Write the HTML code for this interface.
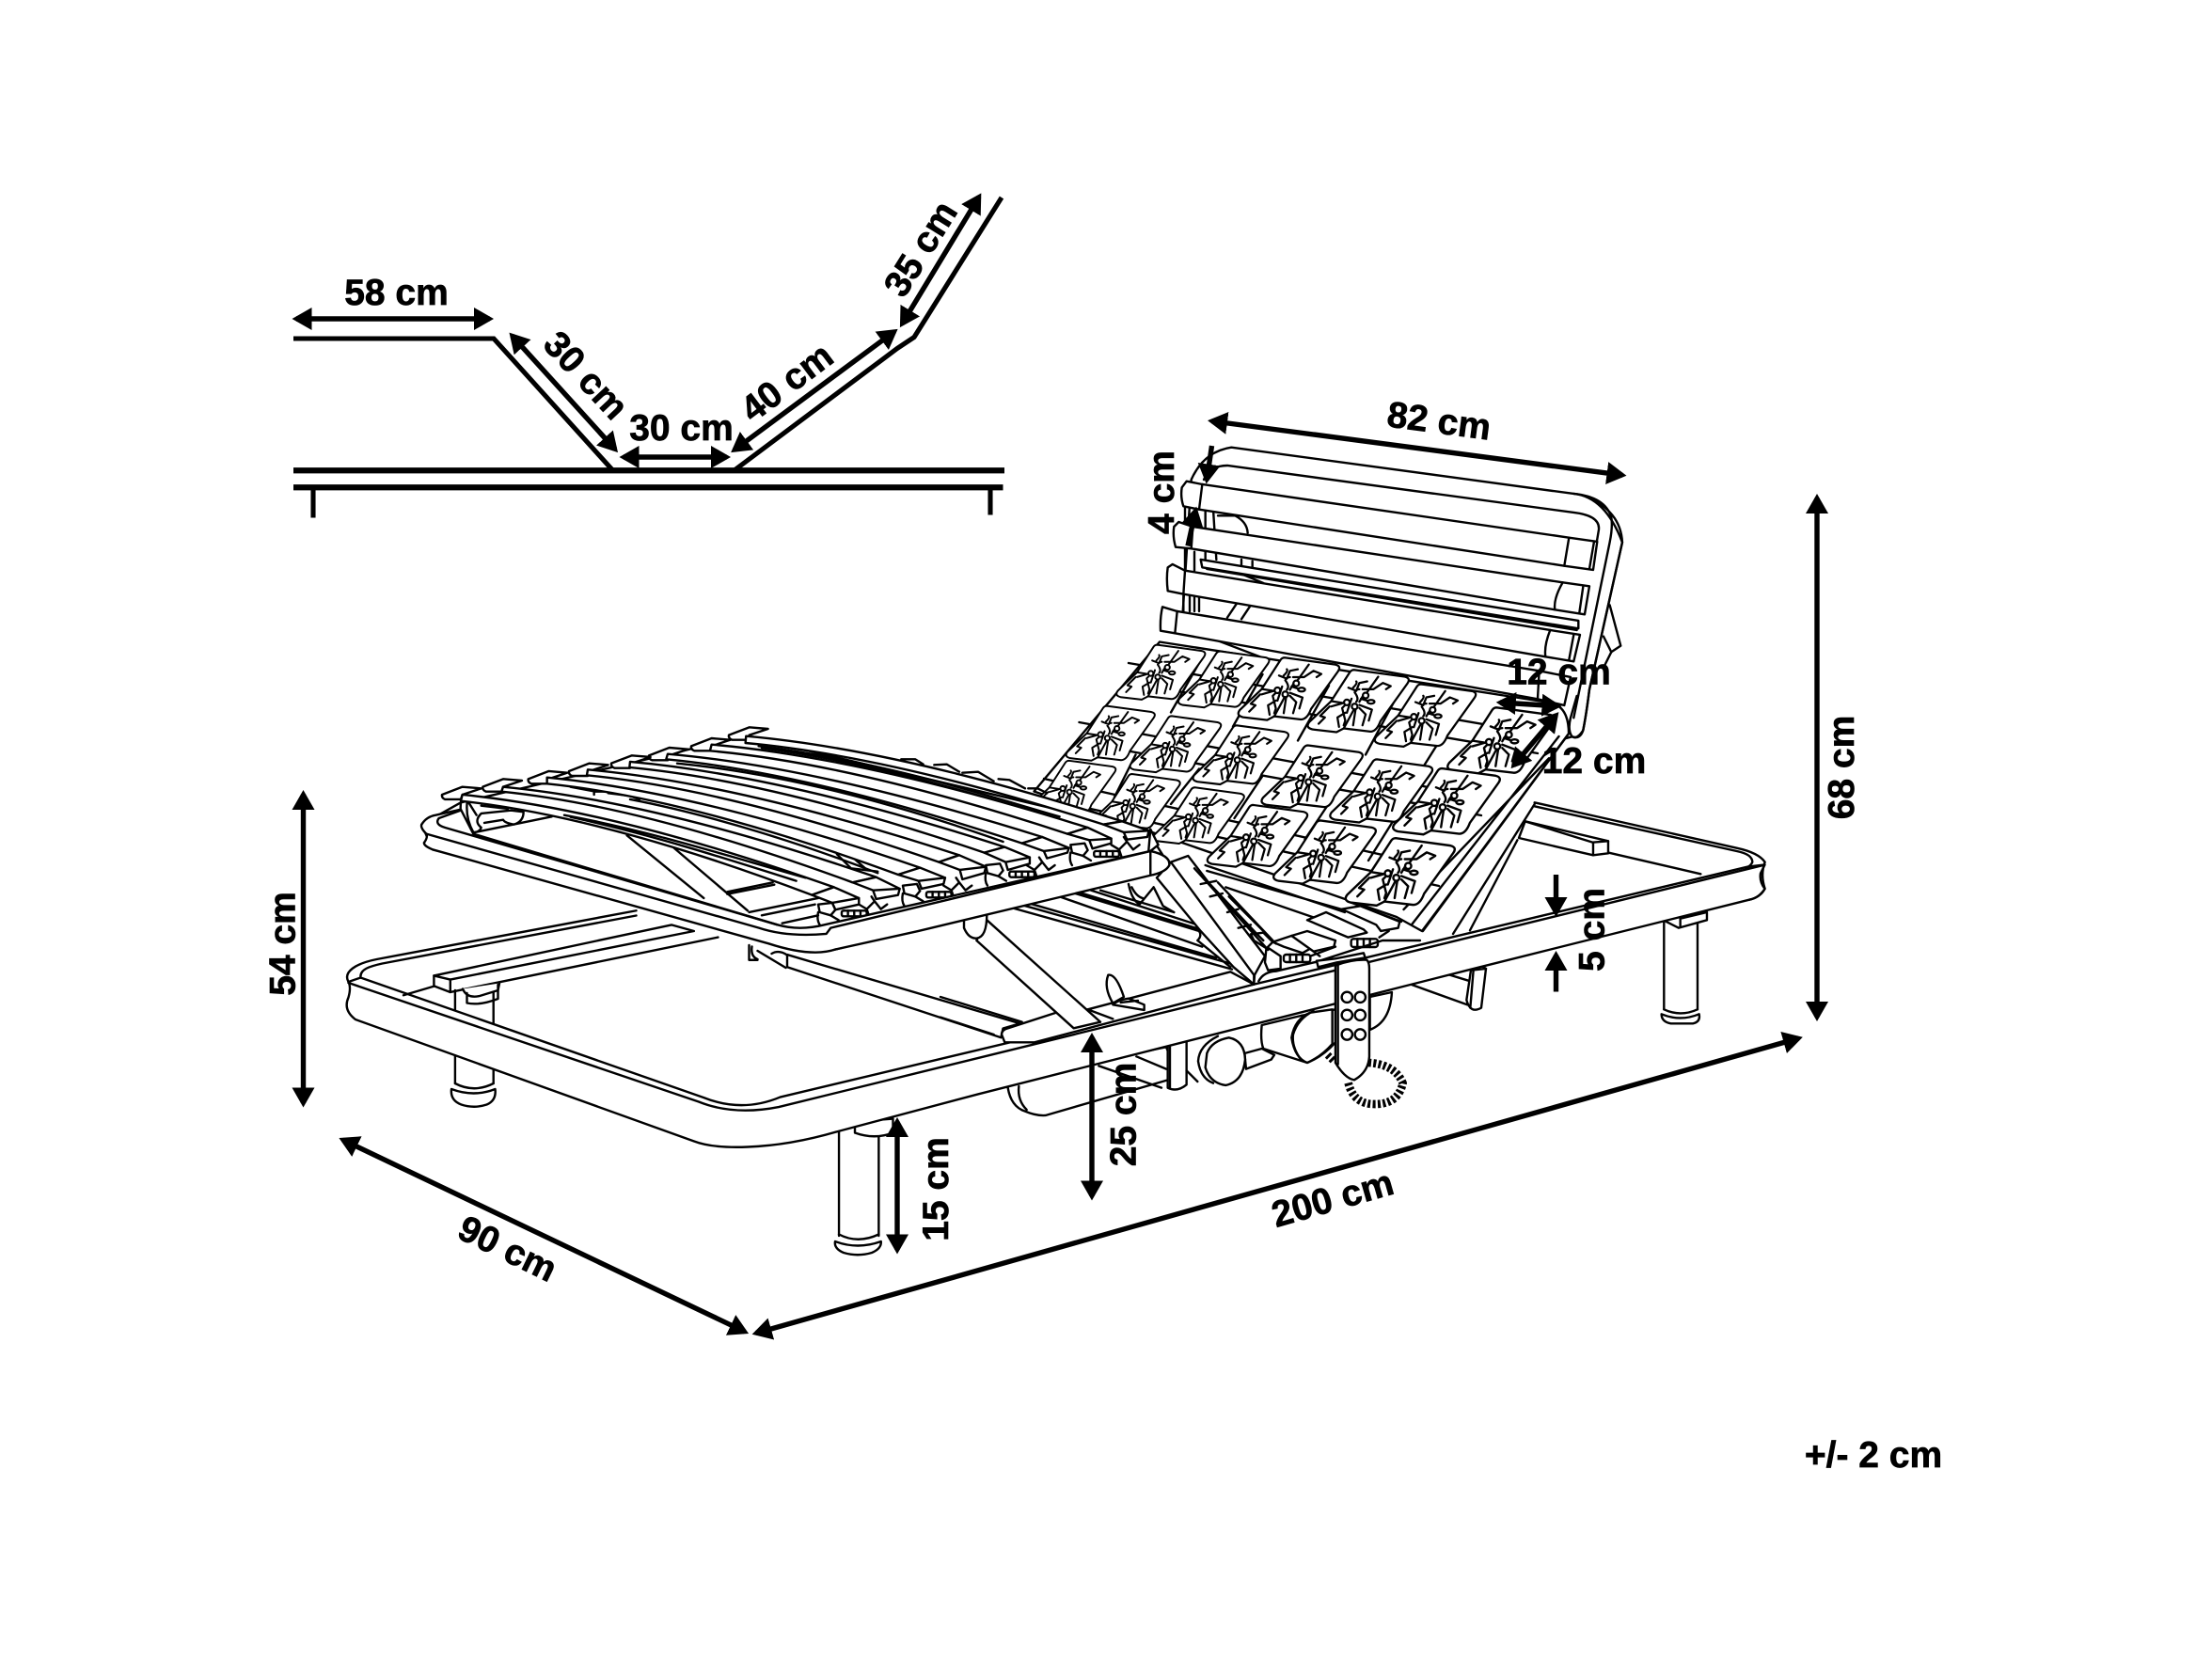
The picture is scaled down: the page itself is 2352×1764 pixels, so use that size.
<!DOCTYPE html>
<html><head><meta charset="utf-8"><title>Bed dimensions</title>
<style>
html,body{margin:0;padding:0;background:#fff}
svg{display:block}
text{font-family:"Liberation Sans",sans-serif;font-weight:700;font-size:26px;fill:#000;text-anchor:middle;stroke:#000;stroke-width:.45}
.d{stroke:#000;stroke-width:3.6;fill:none;marker-start:url(#a);marker-end:url(#a)}
.e{stroke:#000;stroke-width:3.6;fill:none;marker-end:url(#a)}
.w{fill:#fff}
</style></head><body>
<svg xmlns="http://www.w3.org/2000/svg" width="2352" height="1764" viewBox="0 0 1568 1176">
<defs>
<marker id="a" markerUnits="userSpaceOnUse" markerWidth="18" markerHeight="18" refX="11" refY="8.5" orient="auto-start-reverse"><path d="M0,0.5L14,8.5L0,16.5z" fill="#000"/></marker>
<g id="tile" stroke-width="6.8">
<path class="w" d="M378,598L540,620Q560,625 548,642L462,762Q450,795 430,795L345,785L322,797L245,788Q222,782 235,765L305,698L310,690L365,605Q370,598 378,598z"/>
<path d="M455,620L405,690M305,698L350,705M345,785L380,720"/>
<path d="M375,655Q390,640 385,635M360,655L385,665L395,640L420,635M405,660L440,660L470,640L495,650L480,660M385,700Q395,690 380,670Q385,660 395,660M400,690L430,700M300,715L270,745L285,750L265,770M340,705L305,715M350,735L325,750L330,780M360,700L340,720L350,760L345,775M385,710L375,775M395,720L415,740L405,775M395,710L435,725L425,760M410,675L395,700M370,690L355,735"/>
<circle cx="355" cy="702" r="9" class="w"/><circle cx="380" cy="715" r="9" class="w"/><circle cx="415" cy="680" r="9" class="w"/><ellipse cx="432" cy="700" rx="11" ry="6" class="w"/>
</g>
<path id="sc" class="w" d="M90,225L155,200L215,205L155,225L150,240L100,240Q88,235 90,225z"/>
<g id="st">
<path class="w" d="M1290,575L1295,600L1330,610L1345,592L1335,570z"/>
<path d="M1330,610L1355,625M1290,600Q1285,625 1295,640"/>
<rect class="w" x="1365" y="595" width="80" height="18" rx="6"/>
<path d="M1385,595v18M1405,595v18M1425,595v18M1420,575L1445,590L1470,565L1460,550M1470,565L1490,590L1510,575M1445,590L1455,620"/>
</g>
</defs>

<!-- side profile -->
<g fill="none" stroke="#000">
<polyline points="208,240 350,240 434,333" stroke-width="3.4"/>
<polyline points="521,333 636,247 648,239 710,140" stroke-width="3.4"/>
<line x1="208" y1="333.5" x2="712" y2="333.5" stroke-width="4.2"/>
<line x1="208" y1="345.5" x2="711" y2="345.5" stroke-width="4.2"/>
<line x1="222" y1="346" x2="222" y2="367" stroke-width="3.4"/>
<line x1="702" y1="346" x2="702" y2="365" stroke-width="3.4"/>
</g>

<g fill="none" stroke="#000" stroke-width="1.6" stroke-linejoin="round" stroke-linecap="round">

<!-- legs -->
<path d="M322.6,702V768M349.8,702V768"/>
<path class="w" d="M320,772Q336,778 351,772Q352,780 345,783Q336,786 327,783Q319,780 320,772z"/>
<path d="M322.6,768Q336,775 349.8,768"/>
<path d="M594.7,795V876M622.9,795V876"/>
<path class="w" d="M592,880Q608,886 624.5,880Q625,885 618,888Q608,891 598,888Q591,885 592,880z"/>
<path d="M594.7,875Q608,882 622.9,875"/>
<path class="w" d="M606,795V803Q620,808 633,803V793z"/>
<!-- far right leg, F4 -->
<g transform="translate(1000,553.33) scale(.2222)" stroke-width="7.2">
<path d="M808,450V730M915,450V730"/>
<path class="w" d="M800,745Q860,770 920,745Q925,770 900,775L830,775Q800,770 800,745z"/>
<path d="M808,730Q860,755 915,730"/>
<path class="w" d="M815,450L855,470L945,445V420L860,440V468"/>
<!-- right mech -->
<path class="w" d="M85,630L190,660L240,600L180,560L85,630z"/>
<path class="w" d="M0,650L180,715L190,640L60,600z"/>
<path class="w" d="M192,605L178,700Q190,745 225,725L240,600z"/>
<path d="M200,605L190,725"/>
</g>

<!-- motor parts under frame, F5 -->
<g transform="translate(693.33,653.33) scale(.2222)" stroke-width="7.2">
<path class="w" d="M95,530Q105,590 150,605Q185,620 215,618L640,495L600,400L95,500z"/>
<path d="M130,525Q125,570 155,600"/>
<path d="M505,430L600,470M385,460L585,530"/>
<path class="w" d="M605,390V530Q635,545 665,520V380z"/>
<path d="M612,390V530"/>
<path class="w" d="M850,420L905,405L945,425L935,440L855,470z"/>
<path class="w" d="M730,420Q745,380 800,370Q850,380 852,440Q845,510 790,522Q740,515 725,465z"/>
<path d="M765,365Q705,395 702,445Q710,500 750,515M665,475L700,510"/>
<path class="w" d="M905,330Q900,380 910,405L1050,450Q1100,430 1140,385V280L1030,300z"/>
<path class="w" d="M1050,450Q1010,435 1000,370Q1010,310 1060,290L1130,280V390Q1095,430 1050,450z"/>
<path d="M1030,440Q1000,400 1005,360Q1020,310 1070,285"/>
<path class="w" d="M1250,240L1320,225Q1315,320 1250,345z"/>
</g>

<!-- base frame band -->
<path class="w" d="M255.6,693L498.7,778Q526,789 553,777.7L1239,614.4L1251,613L1248,619Q1247,625 1251,630Q1248,636 1240,637.8L1040,687.8L693.3,775.6L594,802Q560,812 530,813Q505,814 492,809L252,722.7Q243,716 247,707Q249,700 247,696z"/>
<path d="M247,696.7L495.3,781Q520,791 552,784.7L1250,613.3"/>
<path d="M247,696C243,689 252,683 267,680L451,645.5M255.6,693C255,687 262,685 271,683L451,649"/>
<g transform="translate(1000,553.33) scale(.2222)" stroke-width="7.2">
<path d="M395,70L1040,215Q1110,230 1130,260Q1115,300 1130,345Q1110,375 1080,380"/>
<path d="M395,82L1040,225Q1090,235 1090,260Q1085,272 1070,278"/>
<path class="w" d="M365,130L630,193V232L582,238L345,183z"/>
<path d="M580,197L630,193M580,197L365,130M582,198V238M632,230L925,298"/>
</g>

<!-- back-left cross bar -->
<path class="w" d="M307.6,691.6L476,655.6L491.9,660L319.2,694.4V703.3L307.6,698.9z"/>
<path d="M319.2,694.4L307.6,691.6M319.2,703.3L509,664.4M286,705.5L308,699"/>
<path class="w" d="M328,701Q331,708 340,706L353,702L354,697"/>
<path d="M331,704V711Q340,713 353,708V698"/>

<!-- centre mechanism -->
<path d="M531,670V680.5H537M533,671Q532,678 537,680M537,674L557,686M547,676Q552,673 558,677"/>
<path class="w" d="M558,676.7L723,725.5L711,729L709.6,735.5L558,685.5z"/>

<g transform="translate(666.67,600) scale(.2222)" stroke-width="7.2">
<!-- base block + beam -->
<path class="w" d="M195,600Q195,585 215,580L370,530L470,520L925,400L1000,440L300,625L205,625z"/>
<path d="M470,520L550,550"/>
<path d="M0,480L260,560M0,545L170,600"/>
<!-- arm -->
<path class="w" d="M148,235L510,560L425,580L115,300z"/>
<path class="w" d="M75,225V260Q90,295 115,293Q148,290 148,215z"/>
<!-- handle -->
<path class="w" d="M550,500Q520,450 535,410Q560,405 585,480z"/>
<path class="w" d="M550,505L650,522L650,505L600,485Q565,490 550,505z"/>
<path d="M575,498L630,492"/>
<!-- centre slats -->
<path d="M225,195L930,392M265,188L930,375M285,182L880,355M380,160L835,320M430,150L825,270M440,146L820,262M480,140L820,250M510,140L745,210"/>
<path d="M600,120Q610,170 635,185L680,130M610,130Q625,160 645,165M680,130L710,190L745,210"/>
<path d="M845,60L1290,210M850,78L1330,215M910,130L1230,240M920,160L1070,310M885,115L1060,300"/>
<path d="M1300,175L1470,240"/>
<!-- stones -->
<g class="w">
<path d="M1040,320L1085,350L1085,390L1045,395L1035,370z"/>
<path d="M990,280L1030,275L1060,305L1040,325L1000,300z"/>
<path d="M1060,305L1120,285L1190,320L1155,340L1095,320z"/>
<path d="M1120,285L1170,270L1260,300L1255,320L1190,335z"/>
<path d="M1170,235L1230,210L1350,265L1360,275L1300,290z"/>
<path d="M1280,200L1340,190L1465,240L1460,260L1405,270L1390,250z"/>
</g>
<rect class="w" x="1095" y="345" width="85" height="24" rx="8"/>
<path d="M1115,345v24M1135,345v24M1155,345v24"/>
<rect class="w" x="1310" y="295" width="85" height="26" rx="8"/>
<path d="M1330,295v26M1350,295v26M1370,295v26"/>
<path d="M1015,430Q1030,400 1070,398L1200,368L1410,300L1530,300"/>
<path d="M1180,350L1260,320M1400,290L1430,270M1190,335L1210,350"/>
<!-- bar -->
<path class="w" d="M735,50L690,100L830,270L935,385L1000,440L1002,410L1035,350L790,30z"/>
<path d="M735,50L1000,410V440M810,70L1045,330M850,110L1010,280M900,170L1030,300"/>
<path d="M825,270Q835,285 820,300L925,385M830,120L880,110M860,160L900,150M915,210L950,200M950,260L990,250"/>
</g>

<!-- back section -->
<g transform="translate(826.67,333.33) scale(.2222)" stroke-width="7.2">
<path class="w" d="M80,30Q120,-60 208,-73L1300,75Q1400,85 1455,230L1350,700Q1340,780 1330,830Q1310,860 1295,850L1100,900L50,500z"/>
<path d="M1340,85Q1450,130 1455,230L1350,700Q1340,780 1330,830Q1320,860 1295,850Q1280,830 1290,790L1310,720"/>
<path d="M1300,75Q1400,85 1420,150Q1425,180 1415,230L1300,790"/>
<path d="M120,30Q140,-15 195,-15L1300,135Q1385,145 1380,190L1370,250"/>
<path class="w" d="M1415,430L1450,560L1420,580L1395,530"/>
<path d="M1420,580L1400,620"/>
<path d="M150,125L160,285M125,130V285M165,145H220Q258,165 260,200M240,285V310M275,290V310M250,335L310,360M60,120V320M90,260V320"/>
<path d="M55,400V450M75,400V450M90,400V450M105,400V450M195,470L225,425M240,475L270,430"/>
<path class="w" d="M110,285L1315,480V505L115,310z"/>
<path d="M130,315L1310,510"/>
<!-- slat D -->
<path class="w" d="M-12,436L35,450L1190,640L1290,660L1270,750L1185,730L28,520L-18,512Q-20,470 -12,436z"/>
<path d="M35,450L28,520M1190,640L1185,730"/>
<!-- slat C -->
<path class="w" d="M5,310L20,300L60,320L1225,510L1320,525L1300,610L1210,595L55,395L5,385Q0,345 5,310z"/>
<path d="M60,320L55,395M1225,510Q1205,560 1210,595M1300,525L1285,605"/>
<!-- slat B -->
<path class="w" d="M25,180L40,165L85,180L1265,358L1350,370L1335,460L1240,445L80,250L30,245Q20,210 25,180z"/>
<path d="M85,180L80,250M1265,358Q1235,410 1240,445M1330,372L1318,455"/>
<!-- slat A -->
<path class="w" d="M50,55L65,35L115,45L1285,215L1375,228L1362,318L1270,305L105,125L55,115Q45,85 50,55z"/>
<path d="M115,45L105,125M1285,215L1270,305M1365,228L1350,315"/>
</g>

<!-- foam bed -->
<path class="w" d="M822,455L1098,498Q1112,500 1112,520L1008,660L990,650L733,561z"/>
<path d="M1098,537.5L995,644.7M1105,522L1001,655M1111.3,521L1008.6,660M1087.8,570L1030,662M1075.6,595.5L1042,659.5"/>
<path d="M800,470L1090,520M800,484L1090,534M765,512L1050,565M765,526L1050,578M740,552L1020,615M740,566L1020,628"/>
<path d="M850,470L830,505M895,478L874,515M942,486L920,525M990,494L968,535M1035,502L1008,545M805,535L790,565M850,545L830,570M895,550L875,580M945,565L925,595M990,578L970,610"/>
<use href="#tile" transform="translate(822.6,476.4) scale(.195) translate(-390,-697)"/>
<use href="#tile" transform="translate(867.2,481.5) scale(.2) translate(-390,-697)"/>
<use href="#tile" transform="translate(913.3,488.2) scale(.2222) translate(-390,-697)"/>
<use href="#tile" transform="translate(962.5,496.8) scale(.2222) translate(-390,-697)"/>
<use href="#tile" transform="translate(1010,507) scale(.2222) translate(-390,-697)"/>
<use href="#tile" transform="translate(1063.7,524.8) scale(.235) translate(-390,-697)"/>
<use href="#tile" transform="translate(786.9,519.7) scale(.195) translate(-390,-697)"/>
<use href="#tile" transform="translate(833,527.4) scale(.2) translate(-390,-697)"/>
<use href="#tile" transform="translate(879.2,535) scale(.21) translate(-390,-697)"/>
<use href="#tile" transform="translate(929.8,550.3) scale(.2222) translate(-390,-697)"/>
<use href="#tile" transform="translate(978.8,560.5) scale(.225) translate(-390,-697)"/>
<use href="#tile" transform="translate(1025,568) scale(.235) translate(-390,-697)"/>
<use href="#tile" transform="translate(760,558) scale(.19) translate(-390,-697)"/>
<use href="#tile" transform="translate(804.8,568) scale(.195) translate(-390,-697)"/>
<use href="#tile" transform="translate(849.4,578) scale(.2) translate(-390,-697)"/>
<use href="#tile" transform="translate(891,592.4) scale(.22) translate(-390,-697)"/>
<use href="#tile" transform="translate(938.7,603.9) scale(.225) translate(-390,-697)"/>
<use href="#tile" transform="translate(992.2,617.9) scale(.24) translate(-390,-697)"/>

<!-- seat: frame F1 -->
<g transform="translate(293.33,513.33) scale(.2222)" stroke-width="7.2">
<path class="w" d="M25,320L150,250L1060,38L2340,340L2410,450L1340,720L60,400z"/>
<!-- far caps peeking behind slats -->
<path d="M1555,112L1600,112L1625,128M1660,130L1700,128L1740,152M1750,155L1800,152L1850,182M1865,175L1900,178L1950,205M1960,205L1990,205L2020,220"/>
<!-- support -->
<path d="M150,250Q145,310 165,330M170,250Q165,300 190,345Q210,345 215,330Q190,310 215,285L310,275L350,280Q350,310 320,320Q290,315 285,305L225,315M215,260L300,270M200,290L175,250M195,345L440,295"/>
<!-- view through -->
<path d="M680,355L925,555M830,395L1065,595M1000,535L1145,505M1000,542L1150,512M1070,600L1290,555M1110,610L1280,575M1175,635L1290,610"/>
<path d="M1350,415L1395,460L1480,470M1395,420L1440,460M500,200L580,215L620,215M575,205V225M680,225L720,240M620,220L740,235"/>
<!-- stones below caps -->
<use href="#st"/><use href="#st" transform="translate(270,-60)"/><use href="#st" transform="translate(535,-125)"/><use href="#st" transform="translate(805,-190)"/>
<!-- slats back to front -->
<use href="#sc" transform="translate(915,-190)"/>
<path class="w" d="M1060,38C1408,69 1816,167 2260,310L2200,320C1777,184 1389,90 1058,60z"/>
<path d="M1100,70C1500,120 1800,220 2060,295M1110,76C1500,128 1800,228 2050,300"/>
<use href="#sc" transform="translate(795,-155)"/>
<path class="w" d="M950,65C1298,95 1706,191 2150,330L2085,350C1663,211 1276,115 945,85z"/>
<use href="#sc" transform="translate(660,-125)"/>
<path class="w" d="M810,95C1157,125 1563,221 2005,360L1940,380C1520,240 1134,143 805,112z"/>
<path d="M840,125C1150,155 1500,240 1880,375"/>
<use href="#sc" transform="translate(540,-100)"/>
<path class="w" d="M690,120C1037,151 1443,249 1885,392L1820,410C1401,267 1016,169 688,138z"/>
<use href="#sc" transform="translate(405,-75)"/>
<path class="w" d="M555,145C899,176 1302,275 1740,418L1675,440C1260,295 878,195 552,163z"/>
<use href="#sc" transform="translate(275,-50)"/>
<path class="w" d="M425,170C770,203 1175,307 1615,458L1545,480C1131,328 750,223 425,190z"/>
<path d="M690,240C950,290 1250,385 1480,475"/>
<use href="#sc" transform="translate(130,-25)"/>
<path class="w" d="M285,200C630,233 1035,337 1475,488L1400,505C986,353 605,248 280,215z"/>
<use href="#sc"/>
<path class="w" d="M155,225C499,259 902,365 1340,520L1270,545C856,388 475,280 150,245z"/>
<path d="M480,290C750,340 1000,420 1250,490M500,296C750,350 1000,430 1220,500"/>
<!-- right caps -->
<g class="w">
<path d="M2200,320L2260,310L2345,340L2340,360L2275,368L2265,345z"/>
<path d="M2085,350L2150,330L2225,365L2225,380L2165,397L2155,370z"/>
<path d="M1940,380L2005,360L2090,395L2085,410L2020,428L2010,405z"/>
<path d="M1820,410L1885,392L1965,425L1965,445L1895,465L1888,440z"/>
<path d="M1675,440L1740,418L1825,455L1820,475L1750,495L1742,465z"/>
<path d="M1545,480L1615,458L1695,490L1690,510L1620,525L1610,500z"/>
<path d="M1400,505L1475,488L1550,525L1545,545L1475,558L1465,530z"/>
<path d="M1270,545L1340,520L1420,555L1420,575L1345,592L1335,570z"/>
</g>
<path d="M2265,345L2345,340M2155,370L2225,365M2010,405L2090,395M1888,440L1965,425M1742,465L1825,455M1610,500L1695,490M1465,530L1550,525M1335,570L1420,555"/>
<!-- corner cap -->
<path class="w" d="M2350,335L2375,385L2350,405Q2415,420 2410,450Q2400,470 2360,480L2340,450z"/>
<!-- band -->
<path class="w" d="M40,350Q20,330 25,320Q40,295 70,290L150,272L190,350L1160,640Q1230,660 1310,640L2350,405Q2415,420 2410,450Q2400,470 2360,480L1610,660L1347,718Q1270,745 1132,700L60,400Q25,385 35,375Q45,360 40,350z"/>
<path d="M40,350L1101,650Q1190,680 1316,669L1330,650L2350,405"/>
<path d="M150,275L80,300Q65,320 100,330L1160,640"/>
<path d="M2350,405V478"/>
</g>

<!-- remote, F5 -->
<g transform="translate(693.33,653.33) scale(.2222)" stroke-width="7.2">
<path class="w" d="M1080,125L1140,118L1230,100L1235,115L1145,130L1085,145z"/>
<path stroke-width="26" stroke-dasharray="9 7" stroke-linecap="butt" d="M1245,450Q1330,455 1355,515Q1340,585 1260,582Q1195,580 1180,510"/>
<path stroke-width="24" stroke-dasharray="9 7" stroke-linecap="butt" d="M1115,425L1135,445"/>
<path class="w" d="M1140,140Q1190,120 1240,122Q1248,130 1248,150V430Q1245,480 1200,505Q1170,500 1140,450z"/>
<path d="M1148,135V455"/>
<circle cx="1177" cy="241" r="17"/><circle cx="1219" cy="241" r="17"/>
<circle cx="1177" cy="298" r="17"/><circle cx="1219" cy="298" r="17"/>
<circle cx="1177" cy="360" r="17"/><circle cx="1219" cy="360" r="17"/>
</g>
</g>

<!-- dimensions -->
<line class="d" x1="210" y1="226" x2="347" y2="226"/>
<line class="d" x1="363" y1="238" x2="436" y2="318.5"/>
<line class="d" x1="442" y1="324" x2="515" y2="324"/>
<line class="d" x1="520.5" y1="319" x2="634" y2="235"/>
<line class="d" x1="639.5" y1="229.5" x2="694" y2="139.5"/>
<line class="d" x1="859" y1="298.5" x2="1150" y2="336.8"/>
<line class="e" x1="859" y1="316" x2="855.5" y2="340"/>
<line class="e" x1="842" y1="387" x2="847.5" y2="362"/>
<line class="d" x1="1063.5" y1="498" x2="1104" y2="500.5"/>
<line class="d" x1="1103" y1="507" x2="1073" y2="542.5"/>
<line class="d" x1="1288" y1="353" x2="1288" y2="721"/>
<line class="d" x1="215" y1="563" x2="215" y2="782"/>
<line class="d" x1="243" y1="808" x2="528" y2="944"/>
<line class="d" x1="536" y1="945" x2="1275" y2="736"/>
<line class="d" x1="636" y1="795" x2="636" y2="886"/>
<line class="d" x1="774" y1="735" x2="774" y2="848"/>
<line class="e" x1="1103" y1="620" x2="1103" y2="647"/>
<line class="e" x1="1103" y1="703" x2="1103" y2="677"/>

<text x="281" y="216">58 cm</text>
<text transform="translate(409,272) rotate(47)">30 cm</text>
<text x="483" y="312">30 cm</text>
<text transform="translate(563,278) rotate(-37)">40 cm</text>
<text transform="translate(660,181) rotate(-58)">35 cm</text>
<text transform="translate(1019,307) rotate(7.5)">82 cm</text>
<text transform="translate(832,349) rotate(-90)">4 cm</text>
<text x="1105" y="485">12 cm</text>
<text x="1130" y="548">12 cm</text>
<text transform="translate(1314,544) rotate(-90)">68 cm</text>
<text transform="translate(209,669) rotate(-90)">54 cm</text>
<text transform="translate(356,893) rotate(26)">90 cm</text>
<text transform="translate(947,858) rotate(-16)">200 cm</text>
<text transform="translate(672,843) rotate(-90)">15 cm</text>
<text transform="translate(805,790) rotate(-90)">25 cm</text>
<text transform="translate(1137,659) rotate(-90)">5 cm</text>
<text x="1328" y="1040">+/- 2 cm</text>
</svg>
</body></html>
